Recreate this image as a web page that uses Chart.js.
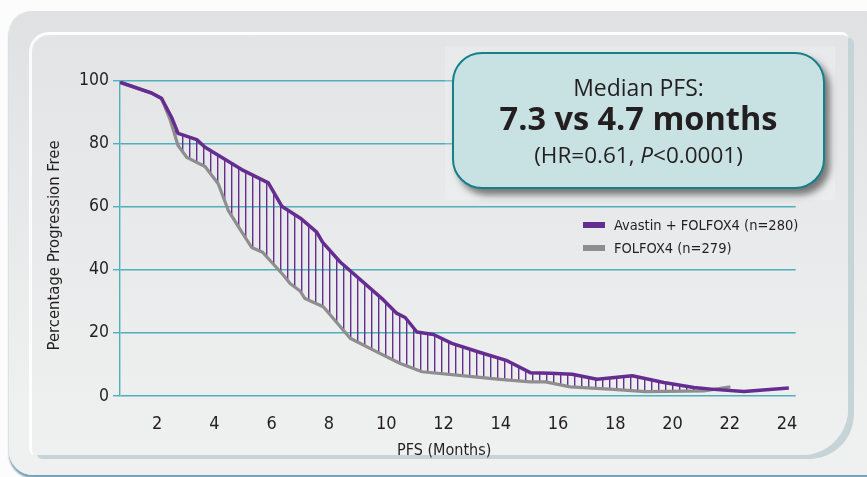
<!DOCTYPE html>
<html>
<head>
<meta charset="utf-8">
<script src="https://cdn.jsdelivr.net/npm/chart.js@4.4.1/dist/chart.umd.min.js"></script>
<style>
  html, body { margin: 0; padding: 0; background: #fff; }
  #wrap { position: relative; width: 867px; height: 477px; overflow: hidden; background: #fcfcfc; }
  .panel {
    position: absolute; left: 9px; top: 11px; width: 900px; height: 464px;
    border-radius: 22px 22px 0 24px; background: linear-gradient(#e0e1e2, #eff0f0 85%);
    box-shadow: 0 3px 2px rgba(30, 100, 130, 0.6);
  }
  .paper {
    position: absolute; left: 29px; top: 32px; width: 816px; height: 420px;
    border-radius: 20px 6px 46px 6px;
    background: linear-gradient(#e3e4e5, #eff0f0);
    border-top: 3px solid rgba(255, 255, 255, 0.9); border-left: 3px solid rgba(255, 255, 255, 0.85);
    box-shadow: 7px 5px 0 -1px #c6d4d7;
  }
  .halo { position: absolute; left: 445px; top: 46px; width: 390px; height: 154px; background: rgba(255, 255, 255, 0.2); }
  .pfs {
    position: absolute; left: 452px; top: 52px; width: 373px; height: 137px;
    box-sizing: border-box; border: 2px solid #14808a; border-radius: 30px;
    background: #c8e2e4; box-shadow: 5px 6px 7px rgba(0, 0, 0, 0.5);
    color: #231f20; font-family: "Open Sans", sans-serif; text-align: center;
  }
  .pfs div { position: absolute; left: 0; right: 0; height: 34px; line-height: 34px; white-space: nowrap; }
  .l1 { top: 16px; font-size: 23px; }
  .l2 { top: 47px; font-size: 32.5px; font-weight: bold; }
  .l3 { top: 84px; font-size: 22.5px; }
  #chart { position: absolute; left: 0; top: 0; }
  #legend { position: absolute; left: 583px; top: 214px; font-family: "DejaVu Sans Condensed", sans-serif; font-size: 14.5px; color: #231f20; }
  #legend .row { height: 22.5px; line-height: 22.5px; white-space: nowrap; }
  #legend .sw { display: inline-block; width: 22px; height: 6px; margin-right: 9px; vertical-align: middle; position: relative; top: -1px; }
</style>
</head>
<body>
<div id="wrap">
  <div class="panel"></div>
  <div class="paper"></div>
  <canvas id="chart" width="867" height="477"></canvas>
  <div class="halo"></div>
  <div class="pfs">
    <div class="l1">Median PFS:</div>
    <div class="l2">7.3 vs 4.7 months</div>
    <div class="l3">(HR=0.61, <i>P</i>&lt;0.0001)</div>
  </div>
  <div id="legend"></div>
</div>
<script>
// Kaplan-Meier style PFS curves

const MONTHS_AVASTIN = [0.7, 1.8, 2.15, 2.5, 2.73, 3.38, 3.67, 4.95, 5.88, 6.35, 7.0, 7.57, 7.78, 8.39, 9.85, 10.37, 10.66, 11.07, 11.65, 12.29, 13.28, 14.22, 15.03, 15.73, 16.49, 17.36, 18.59, 19.69, 20.74, 21.44, 22.49, 24.06];
const PFS_AVASTIN = [99.5, 96.1, 94.4, 88.4, 83.3, 81.3, 78.9, 71.8, 67.6, 60.2, 56.4, 52.0, 48.7, 42.5, 30.9, 26.2, 24.9, 20.3, 19.5, 16.7, 13.8, 11.2, 7.4, 7.2, 6.9, 5.3, 6.4, 4.3, 2.7, 2.1, 1.4, 2.5];

const MONTHS_FOLFOX = [0.7, 1.8, 2.15, 2.44, 2.73, 3.03, 3.67, 4.13, 4.48, 4.85, 5.3, 5.68, 6.41, 6.64, 6.99, 7.16, 7.8, 8.74, 9.67, 10.49, 11.25, 12.82, 13.98, 15.03, 15.56, 16.43, 17.94, 19.05, 21.09, 22.02];
const PFS_FOLFOX = [99.5, 96.1, 94.4, 87.9, 79.4, 75.7, 72.8, 67.3, 58.9, 53.5, 47.1, 45.6, 38.3, 35.7, 33.3, 30.9, 28.3, 18.3, 14.0, 10.3, 7.7, 6.3, 5.3, 4.5, 4.5, 2.9, 2.1, 1.4, 1.6, 2.9];

const SERIES_LABELS = ["Avastin + FOLFOX4 (n=280)", "FOLFOX4 (n=279)"];
const X_TICKS = [2, 4, 6, 8, 10, 12, 14, 16, 18, 20, 22, 24];
const Y_TICKS = [0, 20, 40, 60, 80, 100];

const PURPLE = "#662d91";
const GREY = "#8e8e8e";
const TEAL = "#4fb0bc";
const INK = "#231f20";
const NARROW = '"DejaVu Sans Condensed", sans-serif';

const canvas = document.getElementById("chart");
const ctx = canvas.getContext("2d");

// vertical hatching between the two curves
function hatchPattern(color) {
  const tile = document.createElement("canvas");
  tile.width = 7;
  tile.height = 4;
  const g = tile.getContext("2d");
  g.fillStyle = color;
  g.fillRect(0, 0, 1.4, 4);
  return ctx.createPattern(tile, "repeat");
}

const chart = new Chart(canvas, {
  type: "line",
  data: {
    datasets: [
      {
        label: SERIES_LABELS[0],
        data: MONTHS_AVASTIN.map((m, i) => ({ x: m, y: PFS_AVASTIN[i] })),
        borderColor: PURPLE,
        backgroundColor: PURPLE,
        borderWidth: 3.5,
        borderJoinStyle: "round",
        pointRadius: 0,
        tension: 0,
        fill: { target: 1, above: hatchPattern(PURPLE), below: "rgba(0,0,0,0)" },
      },
      {
        label: SERIES_LABELS[1],
        data: MONTHS_FOLFOX.map((m, i) => ({ x: m, y: PFS_FOLFOX[i] })),
        borderColor: GREY,
        backgroundColor: GREY,
        borderWidth: 3.2,
        borderJoinStyle: "round",
        pointRadius: 0,
        tension: 0,
        fill: false,
      },
    ],
  },
  options: {
    responsive: false,
    animation: false,
    layout: { padding: { left: 41, top: 80.7, right: 71.3, bottom: 12.4 } },
    plugins: {
      legend: { display: false },
      tooltip: { enabled: false },
      filler: { drawTime: "beforeDatasetsDraw" },
    },
    scales: {
      x: {
        type: "linear",
        min: 0.7,
        max: 24.3,
        afterBuildTicks: (s) => { s.ticks = X_TICKS.map((v) => ({ value: v })); },
        afterFit: (s) => { s.height = 68.6; },
        grid: { display: false },
        border: { display: false },
        ticks: { color: INK, padding: 10, maxRotation: 0, autoSkip: false, font: { family: NARROW, size: 18 } },
        // trailing spaces nudge the centred title left, as in the original
        title: { display: true, text: "PFS (Months)      ", color: INK, font: { family: NARROW, size: 16 } },
      },
      y: {
        min: 0,
        max: 100,
        afterBuildTicks: (s) => { s.ticks = Y_TICKS.map((v) => ({ value: v })); },
        afterFit: (s) => { s.width = 79; },
        grid: { color: TEAL, lineWidth: 1.4, tickLength: 7 },
        border: { display: true, color: TEAL, width: 1.4 },
        ticks: { color: INK, padding: 4, font: { family: NARROW, size: 17.5 } },
        title: { display: true, text: "Percentage Progression Free   ", color: INK, font: { family: NARROW, size: 16.5 } },
      },
    },
  },
});

// html legend built from the chart's own legend items
const legendBox = document.getElementById("legend");
chart.options.plugins.legend.labels.generateLabels(chart).forEach((item) => {
  const row = document.createElement("div");
  row.className = "row";
  const sw = document.createElement("span");
  sw.className = "sw";
  sw.style.background = item.strokeStyle;
  row.appendChild(sw);
  row.appendChild(document.createTextNode(item.text));
  legendBox.appendChild(row);
});
</script>
</body>
</html>
